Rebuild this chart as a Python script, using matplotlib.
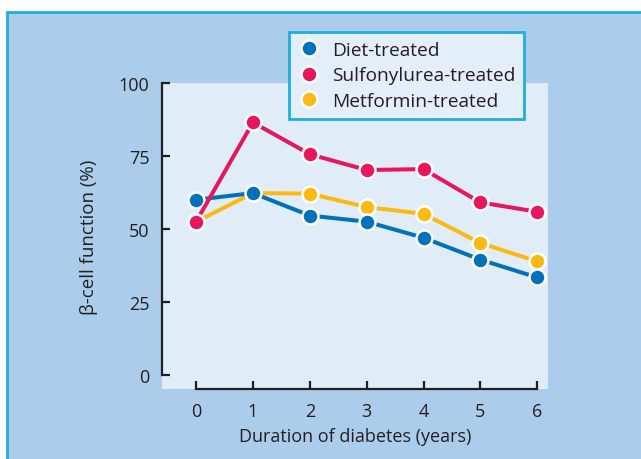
import numpy as np
import matplotlib
matplotlib.use('Agg')
from matplotlib import pyplot as plt
from matplotlib.patches import Rectangle
from matplotlib.lines import Line2D

years = [0, 1, 2, 3, 4, 5, 6]
diet = [60.0, 62.3, 54.6, 52.5, 47.0, 39.5, 33.4]
sulfonylurea = [52.5, 86.5, 75.6, 70.2, 70.5, 59.1, 55.9]
metformin = [52.5, 62.3, 62.1, 57.5, 55.2, 45.2, 38.9]
labels = ['Diet-treated', 'Sulfonylurea-treated', 'Metformin-treated']

blue, pink, yellow = '#0071BA', '#E6175C', '#FBBA13'
dark = '#231F20'
border = '#1EAEE0'

plt.rcParams['font.family'] = ['Open Sans', 'DejaVu Sans']

fig = plt.figure(figsize=(6.41, 4.60), dpi=100, facecolor='white')
fig.patches.append(Rectangle((7 / 641, -0.05), 1.1, 0.05 + 1 - 13 / 460,
                             transform=fig.transFigure, facecolor='#ABCDEB',
                             edgecolor=border, linewidth=2, zorder=-5))

ax = fig.add_axes([162 / 641, 1 - 390 / 460, (548 - 162) / 641, (390 - 84) / 460])
ax.set_zorder(1)
ax.set_facecolor('#E0EDF8')
ax.set_xlim(-0.6, 6.19)
ax.set_ylim(-4.8, 100)

mk = dict(marker='o', markersize=11.5, markeredgecolor='white', markeredgewidth=1.8,
          linewidth=2.9, clip_on=False)
ax.plot(years, metformin, color=yellow, zorder=3, **mk)
ax.plot(years, diet, color=blue, zorder=4, **mk)
ax.plot(years, sulfonylurea, color=pink, zorder=5, **mk)

for s in ['top', 'right']:
    ax.spines[s].set_visible(False)
ax.spines['left'].set_bounds(0, 100)
ax.spines['bottom'].set_bounds(0, 6)
for s in ['left', 'bottom']:
    ax.spines[s].set_color(dark)
    ax.spines[s].set_linewidth(1.6)

ax.set_xticks(years)
ax.set_yticks([0, 25, 50, 75, 100])
ax.tick_params(axis='x', direction='in', length=6, width=1.6, color=dark,
               labelsize=13, labelcolor=dark, pad=9.5)
ax.tick_params(axis='y', direction='in', length=6, width=1.6, color=dark,
               labelsize=13, labelcolor=dark, pad=9)

ax.set_xlabel('Duration of diabetes (years)', fontsize=13, color=dark, labelpad=5)
ax.set_ylabel('β-cell function (%)', fontsize=13.5, color=dark, labelpad=15)

handles = [Line2D([], [], linestyle='none', marker='o', markersize=11.5,
                  markerfacecolor=c, markeredgecolor='white', markeredgewidth=1.8)
           for c in (blue, pink, yellow)]
leg = fig.legend(handles, labels, loc='upper left', bbox_to_anchor=(289 / 641, 1 - 33 / 460),
                 frameon=True, fancybox=False, fontsize=13.8, labelcolor=dark,
                 handletextpad=0.6, borderpad=0.45, labelspacing=0.4,
                 handlelength=1.2, borderaxespad=0)
leg.get_frame().set_facecolor('#E3EEF8')
leg.get_frame().set_edgecolor(border)
leg.get_frame().set_linewidth(2)
leg.get_frame().set_alpha(1)
leg.set_zorder(10)

fig.savefig('out.png', dpi=100, facecolor='white')
